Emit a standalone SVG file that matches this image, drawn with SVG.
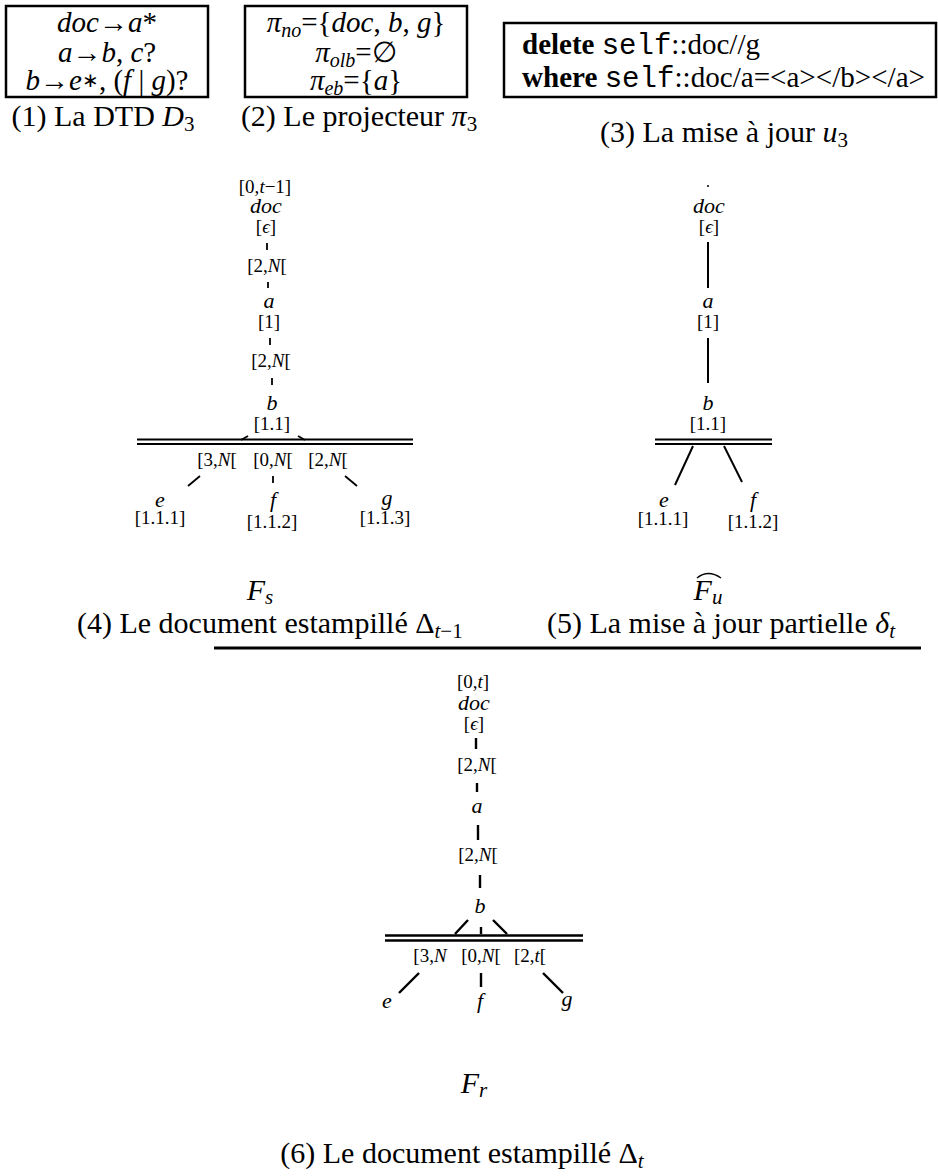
<svg xmlns="http://www.w3.org/2000/svg" width="938" height="1176" viewBox="0 0 938 1176">
<style>
text { font-family: "Liberation Serif", "Times New Roman", serif; fill: #000; }
.i { font-style: italic; }
.m { font-family: "Liberation Mono", monospace; }
.b { font-weight: bold; }
.big { font-size: 30px; }
.box { font-size: 29px; }
.lbl { font-size: 19px; text-anchor: middle; }
.nm { font-size: 22px; font-style: italic; text-anchor: middle; }
.mid { text-anchor: middle; }
.frame { fill: none; stroke: #000; stroke-width: 2.5; }
.e1 { stroke: #000; stroke-width: 1.8; fill: none; }
.e2 { stroke: #000; stroke-width: 2; fill: none; }
.e3 { stroke: #000; stroke-width: 2.4; fill: none; }
</style>
<rect x="0" y="0" width="938" height="1176" fill="#fff"/>

<!-- (1) DTD -->
<g id="dtd">
  <rect class="frame" x="6" y="6" width="202" height="91"/>
  <text class="box mid" x="107" y="32"><tspan class="i">doc</tspan>→<tspan class="i">a</tspan>*</text>
  <text class="box mid" x="107" y="62"><tspan class="i">a</tspan>→<tspan class="i">b</tspan>, <tspan class="i">c</tspan>?</text>
  <text class="box mid" x="107" y="90"><tspan class="i">b</tspan>→<tspan class="i">e</tspan><tspan font-size="20" dy="-3">∗</tspan><tspan dy="3">, (</tspan><tspan class="i">f</tspan> | <tspan class="i">g</tspan>)?</text>
  <text class="big mid" x="103" y="126">(1) La DTD <tspan class="i">D</tspan><tspan font-size="21" dy="5">3</tspan></text>
</g>

<!-- (2) projector -->
<g id="projecteur">
  <rect class="frame" x="245" y="6" width="222" height="91"/>
  <text class="box mid" x="356" y="32"><tspan class="i">π</tspan><tspan class="i" font-size="20" dy="5">no</tspan><tspan dy="-5">={</tspan><tspan class="i">doc</tspan>, <tspan class="i">b</tspan>, <tspan class="i">g</tspan>}</text>
  <text class="box mid" x="356" y="62"><tspan class="i">π</tspan><tspan class="i" font-size="20" dy="5">olb</tspan><tspan dy="-5">=∅</tspan></text>
  <text class="box mid" x="356" y="90"><tspan class="i">π</tspan><tspan class="i" font-size="20" dy="5">eb</tspan><tspan dy="-5">={</tspan><tspan class="i">a</tspan>}</text>
  <text class="big mid" x="359" y="126">(2) Le projecteur <tspan class="i">π</tspan><tspan font-size="21" dy="5">3</tspan></text>
</g>

<!-- (3) update -->
<g id="update">
  <rect class="frame" x="504" y="23" width="432" height="74"/>
  <text class="box" x="522" y="54"><tspan class="b">delete</tspan> <tspan class="m">self</tspan>::doc//g</text>
  <text class="box" x="522" y="87" textLength="403" lengthAdjust="spacingAndGlyphs"><tspan class="b">where</tspan> <tspan class="m">self</tspan>::doc/a=&lt;a&gt;&lt;/b&gt;&lt;/a&gt;</text>
  <text class="big mid" x="724" y="142">(3) La mise à jour <tspan class="i">u</tspan><tspan font-size="21" dy="5">3</tspan></text>
</g>

<!-- connectors -->
<g id="connectors">
  <!-- tree 4 -->
  <line class="e1" x1="267" y1="243" x2="267" y2="250"/>
  <line class="e1" x1="268" y1="282" x2="268" y2="288"/>
  <line class="e1" x1="270" y1="338" x2="270" y2="345"/>
  <line class="e1" x1="272" y1="378" x2="272" y2="385"/>
  <line class="e1" x1="241" y1="440" x2="248" y2="436"/>
  <line class="e1" x1="298" y1="436" x2="305" y2="440"/>
  <line class="e2" x1="137" y1="439.5" x2="413" y2="439.5"/>
  <line class="e2" x1="137" y1="444" x2="413" y2="444"/>
  <line class="e1" x1="200" y1="476" x2="188" y2="486"/>
  <line class="e1" x1="273" y1="476" x2="273" y2="483"/>
  <line class="e1" x1="345" y1="476" x2="357" y2="486"/>
  <!-- tree 5 -->
  <line class="e2" x1="708" y1="242" x2="708" y2="288"/>
  <line class="e2" x1="708" y1="338" x2="708" y2="383"/>
  <line class="e2" x1="655" y1="439.5" x2="772" y2="439.5"/>
  <line class="e2" x1="655" y1="444" x2="772" y2="444"/>
  <line class="e2" x1="693" y1="446" x2="675" y2="485"/>
  <line class="e2" x1="724" y1="446" x2="742" y2="482"/>
  <!-- separator -->
  <line x1="214" y1="648" x2="921" y2="648" stroke="#000" stroke-width="3"/>
  <!-- tree 6 -->
  <line class="e3" x1="476" y1="738" x2="476" y2="749"/>
  <line class="e3" x1="477" y1="783" x2="477" y2="792"/>
  <line class="e3" x1="478" y1="825" x2="478" y2="840"/>
  <line class="e3" x1="480" y1="875" x2="480" y2="888"/>
  <line class="e3" x1="468" y1="920" x2="455" y2="934"/>
  <line class="e3" x1="481" y1="927" x2="481" y2="934"/>
  <line class="e3" x1="493" y1="920" x2="507" y2="934"/>
  <line class="e3" x1="385" y1="935.5" x2="583" y2="935.5"/>
  <line class="e3" x1="385" y1="940.5" x2="583" y2="940.5"/>
  <line class="e3" x1="419" y1="973" x2="399" y2="993"/>
  <line class="e3" x1="481" y1="973" x2="481" y2="987"/>
  <line class="e3" x1="543" y1="973" x2="563" y2="993"/>
</g>

<!-- tree 4 nodes -->
<g id="t4-doc">
  <text class="lbl" x="265" y="193">[0,<tspan class="i">t</tspan>−1]</text>
  <text class="nm" x="266" y="213">doc</text>
  <text class="lbl" x="266" y="233">[<tspan class="i">ϵ</tspan>]</text>
</g>
<g id="t4-int1"><text class="lbl" x="267" y="272">[2,<tspan class="i">N</tspan>[</text></g>
<g id="t4-a">
  <text class="nm" x="269" y="308">a</text>
  <text class="lbl" x="269" y="328">[1]</text>
</g>
<g id="t4-int2"><text class="lbl" x="271" y="367">[2,<tspan class="i">N</tspan>[</text></g>
<g id="t4-b">
  <text class="nm" x="272" y="410">b</text>
  <text class="lbl" x="272" y="430">[1.1]</text>
</g>
<g id="t4-ints">
  <text class="lbl" x="217" y="466">[3,<tspan class="i">N</tspan>[</text>
  <text class="lbl" x="273" y="466">[0,<tspan class="i">N</tspan>[</text>
  <text class="lbl" x="328" y="466">[2,<tspan class="i">N</tspan>[</text>
</g>
<g id="t4-e">
  <text class="nm" x="160" y="507">e</text>
  <text class="lbl" x="160" y="524">[1.1.1]</text>
</g>
<g id="t4-f">
  <text class="nm" x="273" y="507">f</text>
  <text class="lbl" x="272" y="528">[1.1.2]</text>
</g>
<g id="t4-g">
  <text class="nm" x="387" y="505">g</text>
  <text class="lbl" x="385" y="524">[1.1.3]</text>
</g>

<!-- tree 5 nodes -->
<g id="t5-doc">
  <circle cx="708" cy="186" r="1"/>
  <text class="nm" x="709" y="213">doc</text>
  <text class="lbl" x="709" y="233">[<tspan class="i">ϵ</tspan>]</text>
</g>
<g id="t5-a">
  <text class="nm" x="708" y="308">a</text>
  <text class="lbl" x="708" y="328">[1]</text>
</g>
<g id="t5-b">
  <text class="nm" x="708" y="410">b</text>
  <text class="lbl" x="708" y="430">[1.1]</text>
</g>
<g id="t5-e">
  <text class="nm" x="664" y="507">e</text>
  <text class="lbl" x="663" y="525">[1.1.1]</text>
</g>
<g id="t5-f">
  <text class="nm" x="753" y="507">f</text>
  <text class="lbl" x="753" y="528">[1.1.2]</text>
</g>

<!-- captions 4/5 -->
<g id="caption4">
  <text class="big i mid" x="260" y="600">F<tspan font-size="21" dy="4">s</tspan></text>
  <text class="big" x="77" y="633">(4) Le document estampillé Δ<tspan font-size="21" dy="5"><tspan class="i">t</tspan>−1</tspan></text>
</g>
<g id="caption5">
  <path d="M697 578 Q708 569 721 578" fill="none" stroke="#000" stroke-width="1.3"/>
  <text class="big i mid" x="708" y="600">F<tspan font-size="21" dy="4">u</tspan></text>
  <text class="big mid" x="721" y="633">(5) La mise à jour partielle <tspan class="i">δ</tspan><tspan class="i" font-size="21" dy="5">t</tspan></text>
</g>

<!-- tree 6 nodes -->
<g id="t6-doc">
  <text class="lbl" x="473" y="688">[0,<tspan class="i">t</tspan>]</text>
  <text class="nm" x="474" y="710">doc</text>
  <text class="lbl" x="474" y="730">[<tspan class="i">ϵ</tspan>]</text>
</g>
<g id="t6-int1"><text class="lbl" x="477" y="771">[2,<tspan class="i">N</tspan>[</text></g>
<g id="t6-a"><text class="nm" x="477" y="813">a</text></g>
<g id="t6-int2"><text class="lbl" x="478" y="861">[2,<tspan class="i">N</tspan>[</text></g>
<g id="t6-b"><text class="nm" x="480" y="913">b</text></g>
<g id="t6-ints">
  <text class="lbl" x="430" y="962">[3,<tspan class="i">N</tspan></text>
  <text class="lbl" x="481" y="962">[0,<tspan class="i">N</tspan>[</text>
  <text class="lbl" x="530" y="962">[2,<tspan class="i">t</tspan>[</text>
</g>
<g id="t6-e"><text class="nm" x="387" y="1008">e</text></g>
<g id="t6-f"><text class="nm" x="480" y="1008">f</text></g>
<g id="t6-g"><text class="nm" x="567" y="1006">g</text></g>

<g id="caption6">
  <text class="big i mid" x="474" y="1093">F<tspan font-size="21" dy="4">r</tspan></text>
  <text class="big mid" x="462" y="1163">(6) Le document estampillé Δ<tspan class="i" font-size="21" dy="5">t</tspan></text>
</g>
</svg>
